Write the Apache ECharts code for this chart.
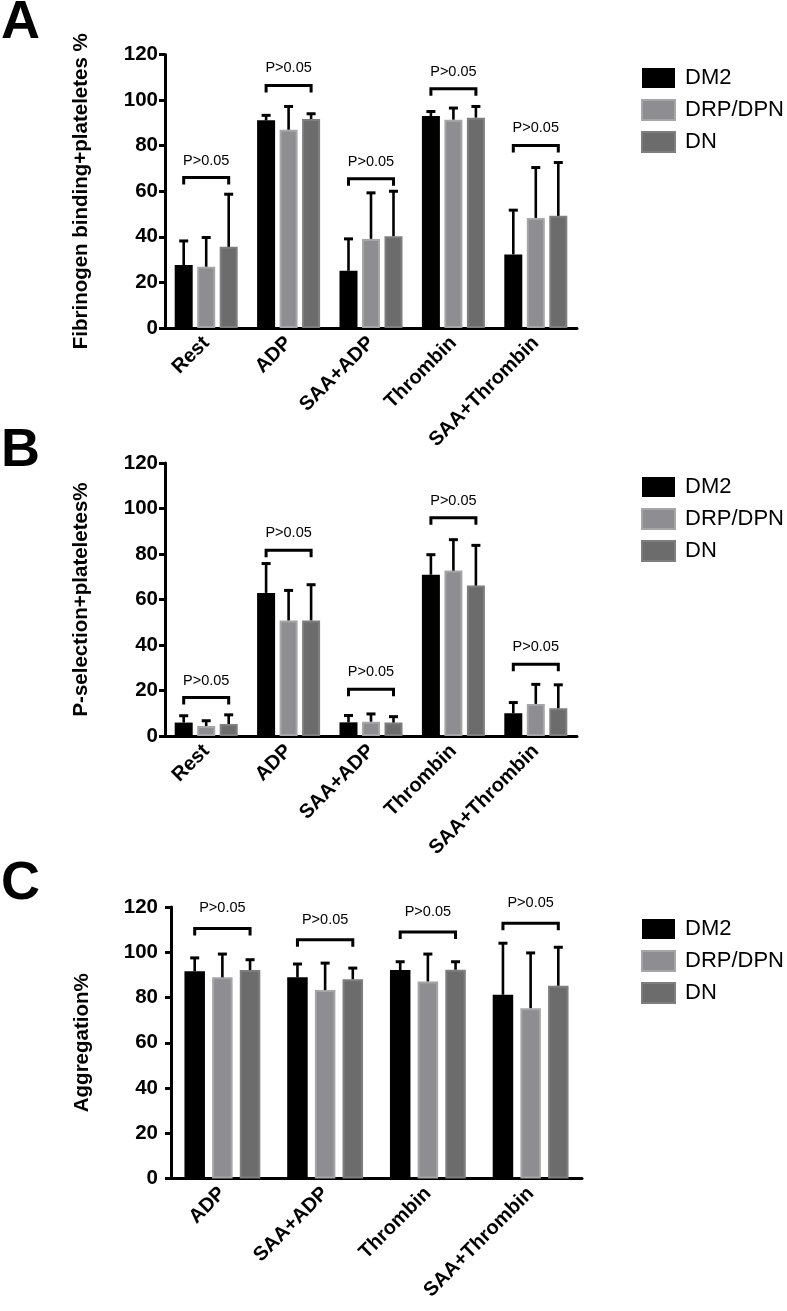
<!DOCTYPE html>
<html><head><meta charset="utf-8">
<script src="https://cdn.jsdelivr.net/npm/echarts@6/dist/echarts.min.js"></script>
<style>html,body{margin:0;padding:0;background:#fff}#c{width:787px;height:1311px}</style>
</head><body><div id="c"></div>
<script>
// ---------- DATA ----------
const groups = ['DM2', 'DRP/DPN', 'DN'];
const catsAB = ['Rest', 'ADP', 'SAA+ADP', 'Thrombin', 'SAA+Thrombin'];
const catsC = ['ADP', 'SAA+ADP', 'Thrombin', 'SAA+Thrombin'];
const yMin = 0, yMax = 120, yStep = 20;
const pLabel = 'P>0.05';
const titleA = 'Fibrinogen binding+plateletes %';
const titleB = 'P-selection+plateletes%';
const titleC = 'Aggregation%';

// Panel A: fibrinogen binding (mean, upper SD)
const aMeanDM2 = [27.6, 91.1, 25.1, 93.0, 32.3];
const aSdDM2   = [10.6, 2.2, 14.0, 2.0, 19.4];
const aMeanDRP = [26.9, 87.0, 39.1, 91.4, 48.3];
const aSdDRP   = [12.8, 10.2, 20.2, 5.1, 22.1];
const aMeanDN  = [35.6, 91.7, 40.3, 92.3, 49.2];
const aSdDN    = [23.1, 2.3, 19.7, 4.9, 23.4];
const aBracket = [66.0, 106.4, 65.5, 105.0, 80.1];

// Panel B: P-selection
const bMeanDM2 = [5.9, 62.9, 6.0, 70.9, 10.0];
const bSdDM2   = [3.0, 12.9, 3.0, 8.8, 4.7];
const bMeanDRP = [4.4, 50.8, 6.3, 72.7, 14.1];
const bSdDRP   = [2.3, 13.2, 3.4, 13.6, 8.6];
const bMeanDN  = [5.3, 50.8, 5.9, 66.1, 12.2];
const bSdDN    = [4.0, 15.7, 2.6, 17.7, 10.3];
const bBracket = [16.9, 81.6, 20.6, 95.9, 31.5];

// Panel C: aggregation
const cMeanDM2 = [91.6, 88.9, 92.1, 81.2];
const cSdDM2   = [5.9, 5.9, 3.7, 22.8];
const cMeanDRP = [88.9, 83.3, 87.1, 75.3];
const cSdDRP   = [10.3, 11.9, 12.1, 24.4];
const cMeanDN  = [92.1, 88.1, 92.3, 85.2];
const cSdDN    = [4.6, 4.9, 3.5, 17.0];
const cBracket = [110.5, 105.5, 108.9, 112.8];

// ---------- STYLE ----------
const FONT = '"Liberation Sans", Arial, sans-serif';
const fills   = ['#000000', '#8e8e92', '#6c6c6c'];
const borders = ['#000000', '#a6a6a8', '#7e7e7e'];

const panels = [
  { cats: catsAB, means: [aMeanDM2, aMeanDRP, aMeanDN], sds: [aSdDM2, aSdDRP, aSdDN], br: aBracket, title: titleA,
    grid: { left: 165, top: 54.5, width: 412, height: 273.5 }, barW: 18, gapPct: 0.25, labelMargin: 7, nameGap: 73,
    legendTop: 62, textGap: 17, letter: 'A', letterTop: -4 },
  { cats: catsAB, means: [bMeanDM2, bMeanDRP, bMeanDN], sds: [bSdDM2, bSdDRP, bSdDN], br: bBracket, title: titleB,
    grid: { left: 165, top: 463, width: 412, height: 273 }, barW: 18, gapPct: 0.25, labelMargin: 7, nameGap: 73,
    legendTop: 471, textGap: 17, letter: 'B', letterTop: 424 },
  { cats: catsC, means: [cMeanDM2, cMeanDRP, cMeanDN], sds: [cSdDM2, cSdDRP, cSdDN], br: cBracket, title: titleC,
    grid: { left: 171, top: 907, width: 411, height: 271.5 }, barW: 20.5, gapPct: 0.35, labelMargin: 13, nameGap: 78,
    legendTop: 913, textGap: 20, letter: 'C', letterTop: 857 }
];

function errRender(offset) {
  return function (params, api) {
    const cat = api.value(0), m = api.value(1), t = api.value(2);
    const p0 = api.coord([cat, m]);
    const p1 = api.coord([cat, t]);
    const x = p0[0] + offset;
    return { type: 'group', children: [
      { type: 'line', shape: { x1: x, y1: p0[1], x2: x, y2: p1[1] }, style: { stroke: '#000', lineWidth: 2.6 } },
      { type: 'line', shape: { x1: x - 4.5, y1: p1[1], x2: x + 4.5, y2: p1[1] }, style: { stroke: '#000', lineWidth: 3 } }
    ] };
  };
}
function bracketRender(offset, textGap) {
  return function (params, api) {
    const cat = api.value(0), y = api.value(1);
    const p = api.coord([cat, y]);
    const l = p[0] - offset, r = p[0] + offset, leg = 7;
    return { type: 'group', children: [
      { type: 'polyline', shape: { points: [[l, p[1] + leg], [l, p[1]], [r, p[1]], [r, p[1] + leg]] },
        style: { stroke: '#000', lineWidth: 3, fill: null, lineJoin: 'miter' } },
      { type: 'text', x: p[0], y: p[1] - textGap,
        style: { text: pLabel, fill: '#000', fontSize: 14.5, fontFamily: FONT, align: 'center', verticalAlign: 'middle' } }
    ] };
  };
}

const option = { animation: false, backgroundColor: '#fff', grid: [], xAxis: [], yAxis: [], series: [], legend: [], graphic: [] };

panels.forEach((P, i) => {
  option.grid.push(P.grid);
  option.xAxis.push({
    type: 'category', gridIndex: i, data: P.cats, boundaryGap: true,
    axisLine: { lineStyle: { color: '#000', width: 3 } },
    axisTick: { alignWithLabel: true, length: 8, lineStyle: { color: '#000', width: 3 } },
    axisLabel: { rotate: 45, color: '#000', fontSize: 20, fontWeight: 'bold', fontFamily: FONT, margin: 12, interval: 0 },
    splitLine: { show: false }
  });
  option.yAxis.push({
    type: 'value', gridIndex: i, min: yMin, max: yMax, interval: yStep,
    name: P.title, nameLocation: 'middle', nameRotate: 90, nameGap: P.nameGap,
    nameTextStyle: { color: '#000', fontSize: 20.5, fontWeight: 'bold', fontFamily: FONT },
    axisLine: { show: true, lineStyle: { color: '#000', width: 3 } },
    axisTick: { show: true, length: 6, lineStyle: { color: '#000', width: 3 } },
    axisLabel: { color: '#000', fontSize: 20.5, fontWeight: 'bold', fontFamily: FONT, margin: P.labelMargin },
    splitLine: { show: false }
  });
  const offs = [-(P.barW * (1 + P.gapPct)), 0, P.barW * (1 + P.gapPct)];
  groups.forEach((g, k) => {
    option.series.push({
      type: 'bar', name: g, xAxisIndex: i, yAxisIndex: i, data: P.means[k],
      barWidth: P.barW, barGap: (P.gapPct * 100) + '%',
      itemStyle: { color: fills[k], borderColor: borders[k], borderWidth: k === 0 ? 0 : 2 },
      z: 2
    });
    option.series.push({
      type: 'custom', name: g + ' SD', xAxisIndex: i, yAxisIndex: i, z: 3,
      renderItem: errRender(offs[k]),
      encode: { x: 0, y: [1, 2] },
      data: P.means[k].map((m, j) => [j, m, m + P.sds[k][j]])
    });
  });
  option.series.push({
    type: 'custom', name: 'bracket', xAxisIndex: i, yAxisIndex: i, z: 4,
    renderItem: bracketRender(P.barW * (1 + P.gapPct), P.textGap),
    encode: { x: 0, y: 1 },
    data: P.br.map((v, j) => [j, v])
  });
  option.legend.push({
    orient: 'vertical', left: 636, top: P.legendTop, data: groups, icon: 'rect',
    itemWidth: 33, itemHeight: 20, itemGap: 10, selectedMode: false,
    textStyle: { color: '#000', fontSize: 22, fontFamily: FONT, padding: [0, 0, 0, 5] }
  });
  option.graphic.push({ type: 'text', left: 1, top: P.letterTop,
    style: { text: P.letter, fill: '#000', fontSize: 54, fontWeight: 'bold', fontFamily: FONT } });
});

const chart = echarts.init(document.getElementById('c'), null, { renderer: 'canvas' });
chart.setOption(option);
</script>
</body></html>
